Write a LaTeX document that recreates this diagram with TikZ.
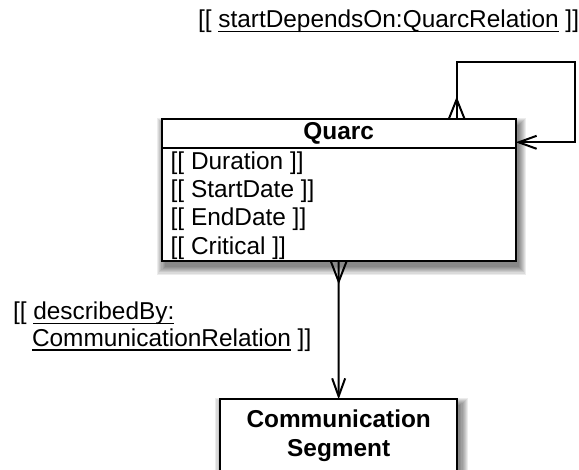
\documentclass[tikz,border=0pt]{standalone}
\usepackage{fontspec}
\setmainfont{Liberation Sans}
\usetikzlibrary{arrows.meta,calc}

% underline drawn a fixed distance below the baseline
\newcommand\ulinetext[1]{\setbox0\hbox{#1}\rlap{\rule[-4pt]{\wd0}{1.3pt}}\box0\relax}

\tikzset{
  umlbox/.style={draw, line width=2pt, fill=white, inner sep=0pt, outer sep=0pt, anchor=north west},
  txt/.style={inner sep=0pt, outer sep=0pt, font=\fontsize{24.4}{28}\selectfont},
  boldtxt/.style={txt, font=\fontsize{24.4}{28}\selectfont\bfseries},
  conn/.style={line width=2pt},
  openhead/.style={-{Straight Barb[length=18pt,width=13pt]}},
  crowfoot/.style={line width=2pt}
}

% soft drop shadow built from stacked translucent rectangles
\newcommand\softshadow[2]{%
  \foreach \k in {0,...,7} {
    \fill[black, opacity=0.075]
      ($(#1)+(3-\k*1.1,6-\k*1.1)$) rectangle ($(#2)+(3+\k*1.1,6+\k*1.1)$);
  }%
}

\begin{document}
\begin{tikzpicture}[x=1pt,y=-1pt]
  \clip (0,0) rectangle (579,470);
  \fill[white] (0,0) rectangle (579,470);

  % shadows
  \softshadow{161.7,119.3}{515.7,261}
  \softshadow{220,399.3}{457.3,500}

  % class boxes
  \node[umlbox, minimum width=354pt, minimum height=141.7pt] (quarc) at (161.7,119.3) {};
  \node[umlbox, minimum width=237.3pt, minimum height=100pt] (comm) at (220,399.3) {};
  \coordinate (hdr) at (0,147.7);
  \draw[line width=2pt] (quarc.west |- hdr) -- (quarc.east |- hdr);

  % Quarc title and attributes
  \node[boldtxt, anchor=base] (qtitle) at (338.7,140) {Quarc};
  \node[txt, anchor=base west] (a1) at (170.7,169.3) {[[ Duration ]]};
  \node[txt, anchor=base west] (a2) at (170.7,197.7) {[[ StartDate ]]};
  \node[txt, anchor=base west] (a3) at (170.7,226) {[[ EndDate ]]};
  \node[txt, anchor=base west] (a4) at (170.7,254.3) {[[ Critical ]]};

  % Communication Segment title
  \node[boldtxt, anchor=base] (ct1) at (338.7,428) {Communication};
  \node[boldtxt, anchor=base] (ct2) at (338.7,457) {Segment};

  % relation labels
  \node[txt, anchor=base west] (rel1) at (198,28) {[[ \ulinetext{startDependsOn:QuarcRelation} ]]};
  \node[txt, anchor=base west] (rel2a) at (13,320) {[[ \ulinetext{describedBy:}};
  \node[txt, anchor=base west] (rel2b) at (32,346.7) {\ulinetext{CommunicationRelation} ]]};

  % self relation startDependsOn
  \coordinate (looptop) at (456.7,62);
  \coordinate (loopright) at (575,142.3);
  \draw[conn, openhead] (quarc.north -| looptop) -- (looptop) -| (loopright) -- (quarc.east |- loopright);
  \draw[crowfoot] ($(quarc.north -| looptop)+(-8,0)$) -- ($(quarc.north -| looptop)+(0,-20)$)
                  -- ($(quarc.north -| looptop)+(8,0)$);

  % describedBy relation
  \draw[conn, openhead] (quarc.south) -- (comm.north);
  \draw[crowfoot] ($(quarc.south)+(-8,0)$) -- ($(quarc.south)+(0,20.7)$) -- ($(quarc.south)+(8,0)$);
\end{tikzpicture}
\end{document}
